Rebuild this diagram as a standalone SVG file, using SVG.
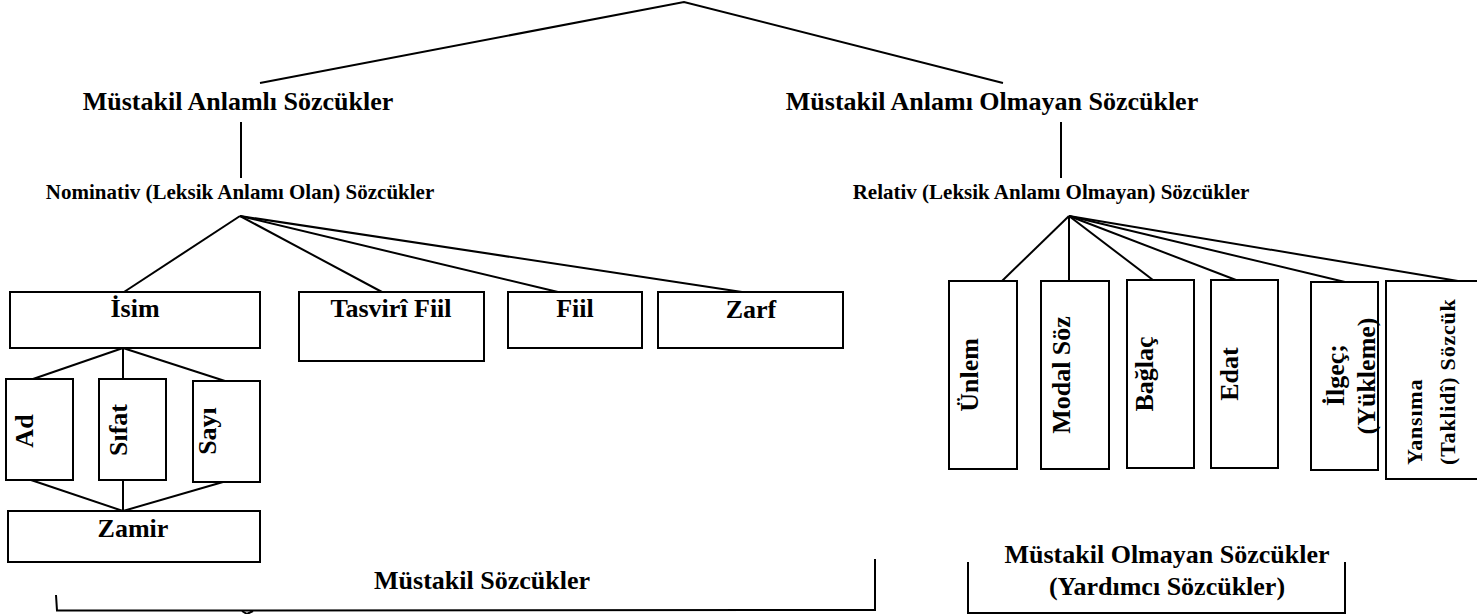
<svg xmlns="http://www.w3.org/2000/svg" width="1477" height="614" viewBox="0 0 1477 614">
<style>
text{font-family:"Liberation Serif","Times New Roman",serif;font-weight:bold;fill:#000}
.big{font-size:26px}
.mid{font-size:21px}
.lbl{font-size:26px;text-anchor:middle}
.c{text-anchor:middle}
rect{fill:#fff;stroke:#000;stroke-width:2}
line,polyline{stroke:#000;stroke-width:2;fill:none}
</style>
<rect x="0" y="0" width="1477" height="614" style="fill:#fff;stroke:none"/>
<g id="connectors">
<polyline points="260,83 684,2 1003,83"/>
<line x1="241" y1="122" x2="241" y2="178"/>
<line x1="1061" y1="122" x2="1061" y2="178"/>
<line x1="240" y1="216" x2="124" y2="292"/>
<line x1="240" y1="216" x2="382" y2="292"/>
<line x1="240" y1="216" x2="558" y2="292"/>
<line x1="240" y1="216" x2="742" y2="292"/>
<line x1="123" y1="348" x2="33" y2="379"/>
<line x1="123" y1="348" x2="123" y2="379"/>
<line x1="123" y1="348" x2="225" y2="381"/>
<line x1="31" y1="480" x2="123" y2="511"/>
<line x1="123" y1="480" x2="123" y2="511"/>
<line x1="223" y1="482" x2="123" y2="511"/>
<line x1="1069" y1="216" x2="1002" y2="281"/>
<line x1="1069" y1="216" x2="1069" y2="281"/>
<line x1="1069" y1="216" x2="1153" y2="280"/>
<line x1="1069" y1="216" x2="1236" y2="280"/>
<line x1="1069" y1="216" x2="1345" y2="282"/>
<line x1="1069" y1="216" x2="1458" y2="281"/>
<polyline points="56,595 57,610.5 875,610 875,559"/>
<polyline points="242,611 247,614 253,611"/>
<polyline points="968,562 968,613 1345,613 1345,562"/>
</g>
<g id="root-left"><text class="big c" x="238" y="110">Müstakil Anlamlı Sözcükler</text></g>
<g id="root-right"><text class="big c" x="992" y="110">Müstakil Anlamı Olmayan Sözcükler</text></g>
<g id="nominativ"><text class="mid c" x="240" y="199">Nominativ (Leksik Anlamı Olan) Sözcükler</text></g>
<g id="relativ"><text class="mid c" x="1051" y="199">Relativ (Leksik Anlamı Olmayan) Sözcükler</text></g>
<g id="isim"><rect x="10" y="292" width="250" height="56"/><text class="lbl" x="135" y="317">İsim</text></g>
<g id="tasviri"><rect x="299" y="292" width="185" height="69"/><text class="lbl" x="391" y="317">Tasvirî Fiil</text></g>
<g id="fiil"><rect x="508" y="292" width="134" height="56"/><text class="lbl" x="575" y="317">Fiil</text></g>
<g id="zarf"><rect x="658" y="292" width="185" height="56"/><text class="lbl" x="751" y="318">Zarf</text></g>
<g id="ad"><rect x="6" y="379" width="67" height="101"/><text class="lbl" transform="translate(33,431) rotate(-90)">Ad</text></g>
<g id="sifat"><rect x="99" y="379" width="67" height="101"/><text class="lbl" transform="translate(127,430) rotate(-90)">Sıfat</text></g>
<g id="sayi"><rect x="193" y="381" width="67" height="101"/><text class="lbl" transform="translate(216,431) rotate(-90)">Sayı</text></g>
<g id="zamir"><rect x="8" y="511" width="252" height="51"/><text class="lbl" x="133" y="537">Zamir</text></g>
<g id="unlem"><rect x="949" y="281" width="68" height="188"/><text class="lbl" transform="translate(978,375) rotate(-90)">Ünlem</text></g>
<g id="modal"><rect x="1041" y="281" width="68" height="188"/><text class="lbl" transform="translate(1070,375) rotate(-90)">Modal Söz</text></g>
<g id="baglac"><rect x="1127" y="280" width="67" height="188"/><text class="lbl" transform="translate(1153,374) rotate(-90)">Bağlaç</text></g>
<g id="edat"><rect x="1211" y="280" width="67" height="188"/><text class="lbl" transform="translate(1238,374) rotate(-90)">Edat</text></g>
<g id="ilgec"><rect x="1311" y="282" width="67" height="188"/><text class="lbl" transform="translate(1344,375) rotate(-90)">İlgeç;</text><text class="lbl" transform="translate(1375,376) rotate(-90)">(Yükleme)</text></g>
<g id="yansima"><rect x="1386" y="281" width="100" height="198"/><text style="font-size:22px;letter-spacing:0.8px" transform="translate(1422,465) rotate(-90)">Yansıma</text><text style="font-size:22px;letter-spacing:0.8px" transform="translate(1455,465) rotate(-90)">(Taklidî) Sözcük</text></g>
<g id="mustakil-sozcukler"><text class="big c" x="482" y="589">Müstakil Sözcükler</text></g>
<g id="mustakil-olmayan"><text class="big c" x="1167" y="563">Müstakil Olmayan Sözcükler</text><text class="big c" x="1167" y="595">(Yardımcı Sözcükler)</text></g>
</svg>
